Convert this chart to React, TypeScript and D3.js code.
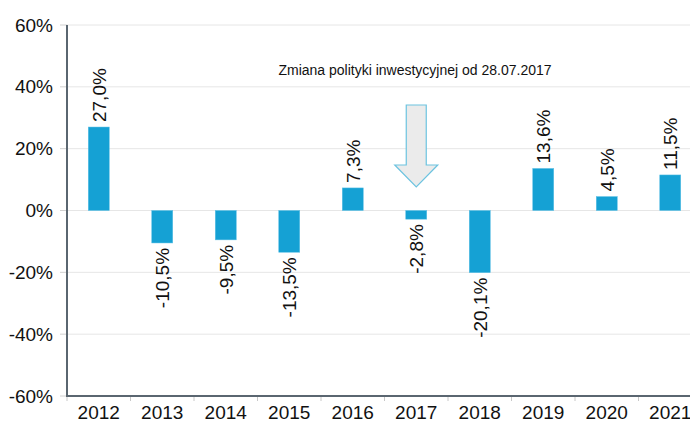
import React from "react";
import * as d3 from "d3";

const years = ["2012","2013","2014","2015","2016","2017","2018","2019","2020","2021"];
const returns = [27.0,-10.5,-9.5,-13.5,7.3,-2.8,-20.1,13.6,4.5,11.5];
const yTicks = [60,40,20,0,-20,-40,-60];
const annotation = "Zmiana polityki inwestycyjnej od 28.07.2017";
const arrowYear = "2017";

const W = 690, H = 422;
const left = 67, top = 25, bottom = 396;
const bandW = 63.5;

export default function App() {
  const x = d3.scaleBand<string>().domain(years).range([left, left + bandW * years.length]).paddingInner(0).paddingOuter(0);
  const y = d3.scaleLinear().domain([-60, 60]).range([bottom, top]);
  const barW = 21;
  const font = "'Liberation Sans', Arial, sans-serif";
  const fmt = (v: number) => v.toFixed(1).replace(".", ",") + "%";
  const ax = (x(arrowYear) as number) + bandW / 2;
  const aTop = 105, shaftBottom = 165, tip = 187, sw = 10, hw = 21.5;
  const arrowPath = `M${ax - sw},${aTop} L${ax + sw},${aTop} L${ax + sw},${shaftBottom} L${ax + hw},${shaftBottom} L${ax},${tip} L${ax - hw},${shaftBottom} L${ax - sw},${shaftBottom} Z`;
  return (
    <svg width={W} height={H} style={{ position: "absolute", left: 0, top: 0, background: "#fff" }} fontFamily={font}>
      {yTicks.map(t => (
        <g key={t}>
          <line x1={left} x2={W} y1={y(t)} y2={y(t)} stroke="#e6e6e6" strokeWidth={1} />
          <line x1={60} x2={left} y1={y(t)} y2={y(t)} stroke="#d0d0d0" strokeWidth={1} />
          <text x={53} y={y(t)} dy="0.35em" textAnchor="end" fontSize={19} fill="#111">{t}%</text>
        </g>
      ))}
      {years.map((yr, i) => {
        const v = returns[i];
        const cx = (x(yr) as number) + bandW / 2;
        const y0 = y(0), y1 = y(v);
        return (
          <g key={yr}>
            <rect x={cx - barW / 2} y={Math.min(y0, y1)} width={barW} height={Math.abs(y1 - y0)} fill="#15a1d4" stroke="#5cc0e6" strokeWidth={0.5} />
            {v >= 0 ? (
              <text transform={`translate(${cx + 7},${y1 - 5}) rotate(-90)`} textAnchor="start" fontSize={19} fill="#111">{fmt(v)}</text>
            ) : (
              <text transform={`translate(${cx + 7},${y1 + 5}) rotate(-90)`} textAnchor="end" fontSize={19} fill="#111">{fmt(v)}</text>
            )}
          </g>
        );
      })}
      {d3.range(years.length + 1).map(i => (
        <line key={i} x1={left + i * bandW} x2={left + i * bandW} y1={bottom} y2={bottom + 5} stroke="#c8c8c8" strokeWidth={1} />
      ))}
      {years.map(yr => (
        <text key={yr} x={(x(yr) as number) + bandW / 2} y={419} textAnchor="middle" fontSize={19} fill="#111">{yr}</text>
      ))}
      <line x1={left} x2={left} y1={top} y2={bottom} stroke="#5a6670" strokeWidth={2} />
      <line x1={left - 1} x2={W} y1={bottom} y2={bottom} stroke="#5a6670" strokeWidth={2} />
      <path d={arrowPath} fill="#ebebeb" stroke="#6cc3e0" strokeWidth={1.2} />
      <text x={415} y={75} textAnchor="middle" fontSize={14} fill="#111">{annotation}</text>
    </svg>
  );
}
